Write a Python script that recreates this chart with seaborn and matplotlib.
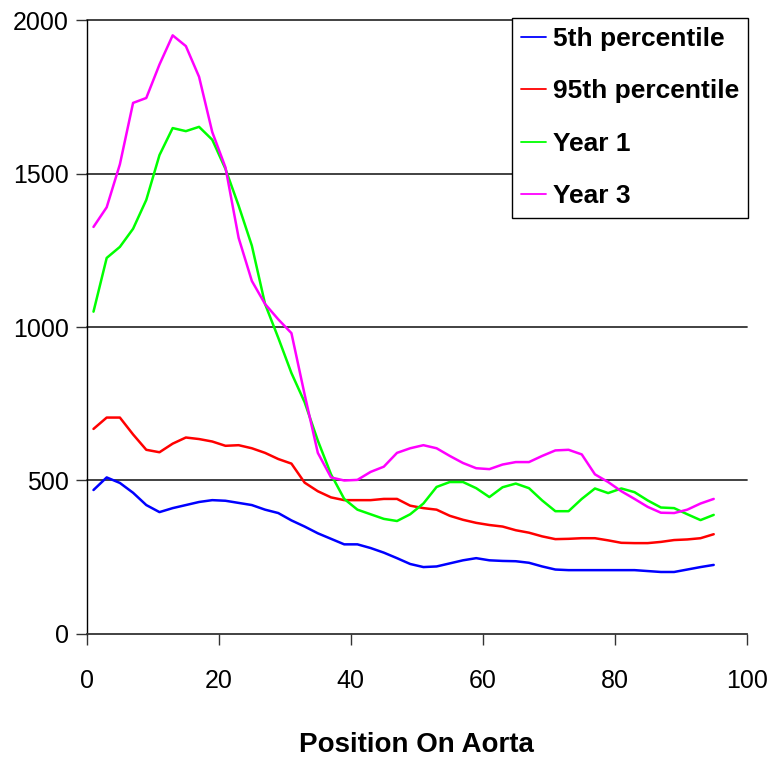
import matplotlib
matplotlib.use("Agg")
import matplotlib.pyplot as plt
import seaborn as sns
import pandas as pd

position = list(range(1, 96, 2))

p5 = [469, 510, 492, 460, 420, 397, 410, 420, 430, 436, 434, 427, 420, 405, 394, 370,
      350, 328, 310, 292, 292, 280, 265, 247, 228, 218, 220, 230, 240, 247, 240, 238,
      237, 232, 220, 210, 208, 208, 208, 208, 208, 208, 205, 202, 202, 210, 218, 225]

p95 = [668, 705, 705, 650, 600, 592, 620, 640, 635, 627, 613, 615, 605, 590, 570, 555,
       493, 465, 445, 436, 436, 436, 440, 440, 418, 410, 405, 385, 372, 362, 355, 350,
       338, 330, 318, 309, 310, 312, 312, 305, 297, 296, 296, 300, 306, 308, 312, 325]

year1 = [1050, 1225, 1261, 1320, 1414, 1560, 1648, 1638, 1652, 1610, 1515, 1395, 1265, 1075, 965, 850,
         755, 630, 520, 440, 405, 390, 375, 368, 390, 425, 479, 495, 495, 475, 446, 478,
         490, 475, 435, 400, 400, 440, 474, 459, 474, 462, 435, 412, 410, 390, 371, 388]

year3 = [1326, 1390, 1530, 1730, 1746, 1855, 1950, 1915, 1815, 1635, 1520, 1290, 1150, 1075, 1025, 980,
         780, 590, 510, 500, 502, 528, 545, 590, 605, 615, 605, 580, 557, 540, 537, 552,
         560, 560, 580, 598, 600, 585, 520, 495, 465, 440, 414, 395, 394, 405, 425, 440]

series_names = ["5th percentile", "95th percentile", "Year 1", "Year 3"]
series_colors = ["#0000FF", "#FF0000", "#00FF00", "#FF00FF"]
y_ticks = [0, 500, 1000, 1500, 2000]
x_ticks = [0, 20, 40, 60, 80, 100]

frames = []
for name, vals in zip(series_names, [p5, p95, year1, year3]):
    frames.append(pd.DataFrame({"Position": position, "Value": vals, "Series": name}))
df = pd.concat(frames, ignore_index=True)

sns.set_style("white")
plt.rcParams["font.family"] = ["Liberation Sans", "DejaVu Sans"]
plt.rcParams["text.color"] = "black"
plt.rcParams["xtick.color"] = "black"
plt.rcParams["ytick.color"] = "black"
plt.rcParams["axes.labelcolor"] = "black"

fig = plt.figure(figsize=(7.69, 7.58), dpi=100)
ax = fig.add_axes([0.113, 0.1636, 0.858, 0.81])

sns.lineplot(data=df, x="Position", y="Value", hue="Series", hue_order=series_names,
             palette=dict(zip(series_names, series_colors)), linewidth=1.8, ax=ax,
             estimator=None, sort=False, zorder=3)

ax.set_xlim(0, 100)
ax.set_ylim(0, 2000)
ax.set_xticks(x_ticks)
ax.set_yticks(y_ticks)
ax.set_xticklabels([str(t) for t in x_ticks], fontsize=18)
ax.set_yticklabels([str(t) for t in y_ticks], fontsize=18)
ax.tick_params(axis="x", direction="out", length=8, width=1, color="#333333", pad=17, bottom=True)
ax.tick_params(axis="y", direction="out", length=8, width=1, color="#333333", pad=5, left=True)

for v in y_ticks[1:]:
    ax.axhline(v, color="#333333", linewidth=1.3, zorder=1, clip_on=False)

ax.spines["top"].set_visible(False)
ax.spines["right"].set_visible(False)
ax.spines["left"].set_color("black")
ax.spines["left"].set_linewidth(1.0)
ax.spines["bottom"].set_color("#333333")
ax.spines["bottom"].set_linewidth(1.3)

ax.set_xlabel("Position On Aorta", fontsize=20, fontweight="bold", labelpad=28)
ax.set_ylabel("")

leg = ax.legend(loc="upper right", bbox_to_anchor=(1.002, 1.004), frameon=True, fancybox=False,
                prop={"weight": "bold", "size": 19}, handlelength=0.95, handletextpad=0.25,
                borderpad=0.35, labelspacing=1.08, borderaxespad=0.0)
leg.get_frame().set_edgecolor("black")
leg.get_frame().set_linewidth(1.0)
leg.get_frame().set_alpha(1.0)
for line in leg.get_lines():
    line.set_linewidth(1.3)

fig.savefig("out.png", dpi=100, facecolor="white")
